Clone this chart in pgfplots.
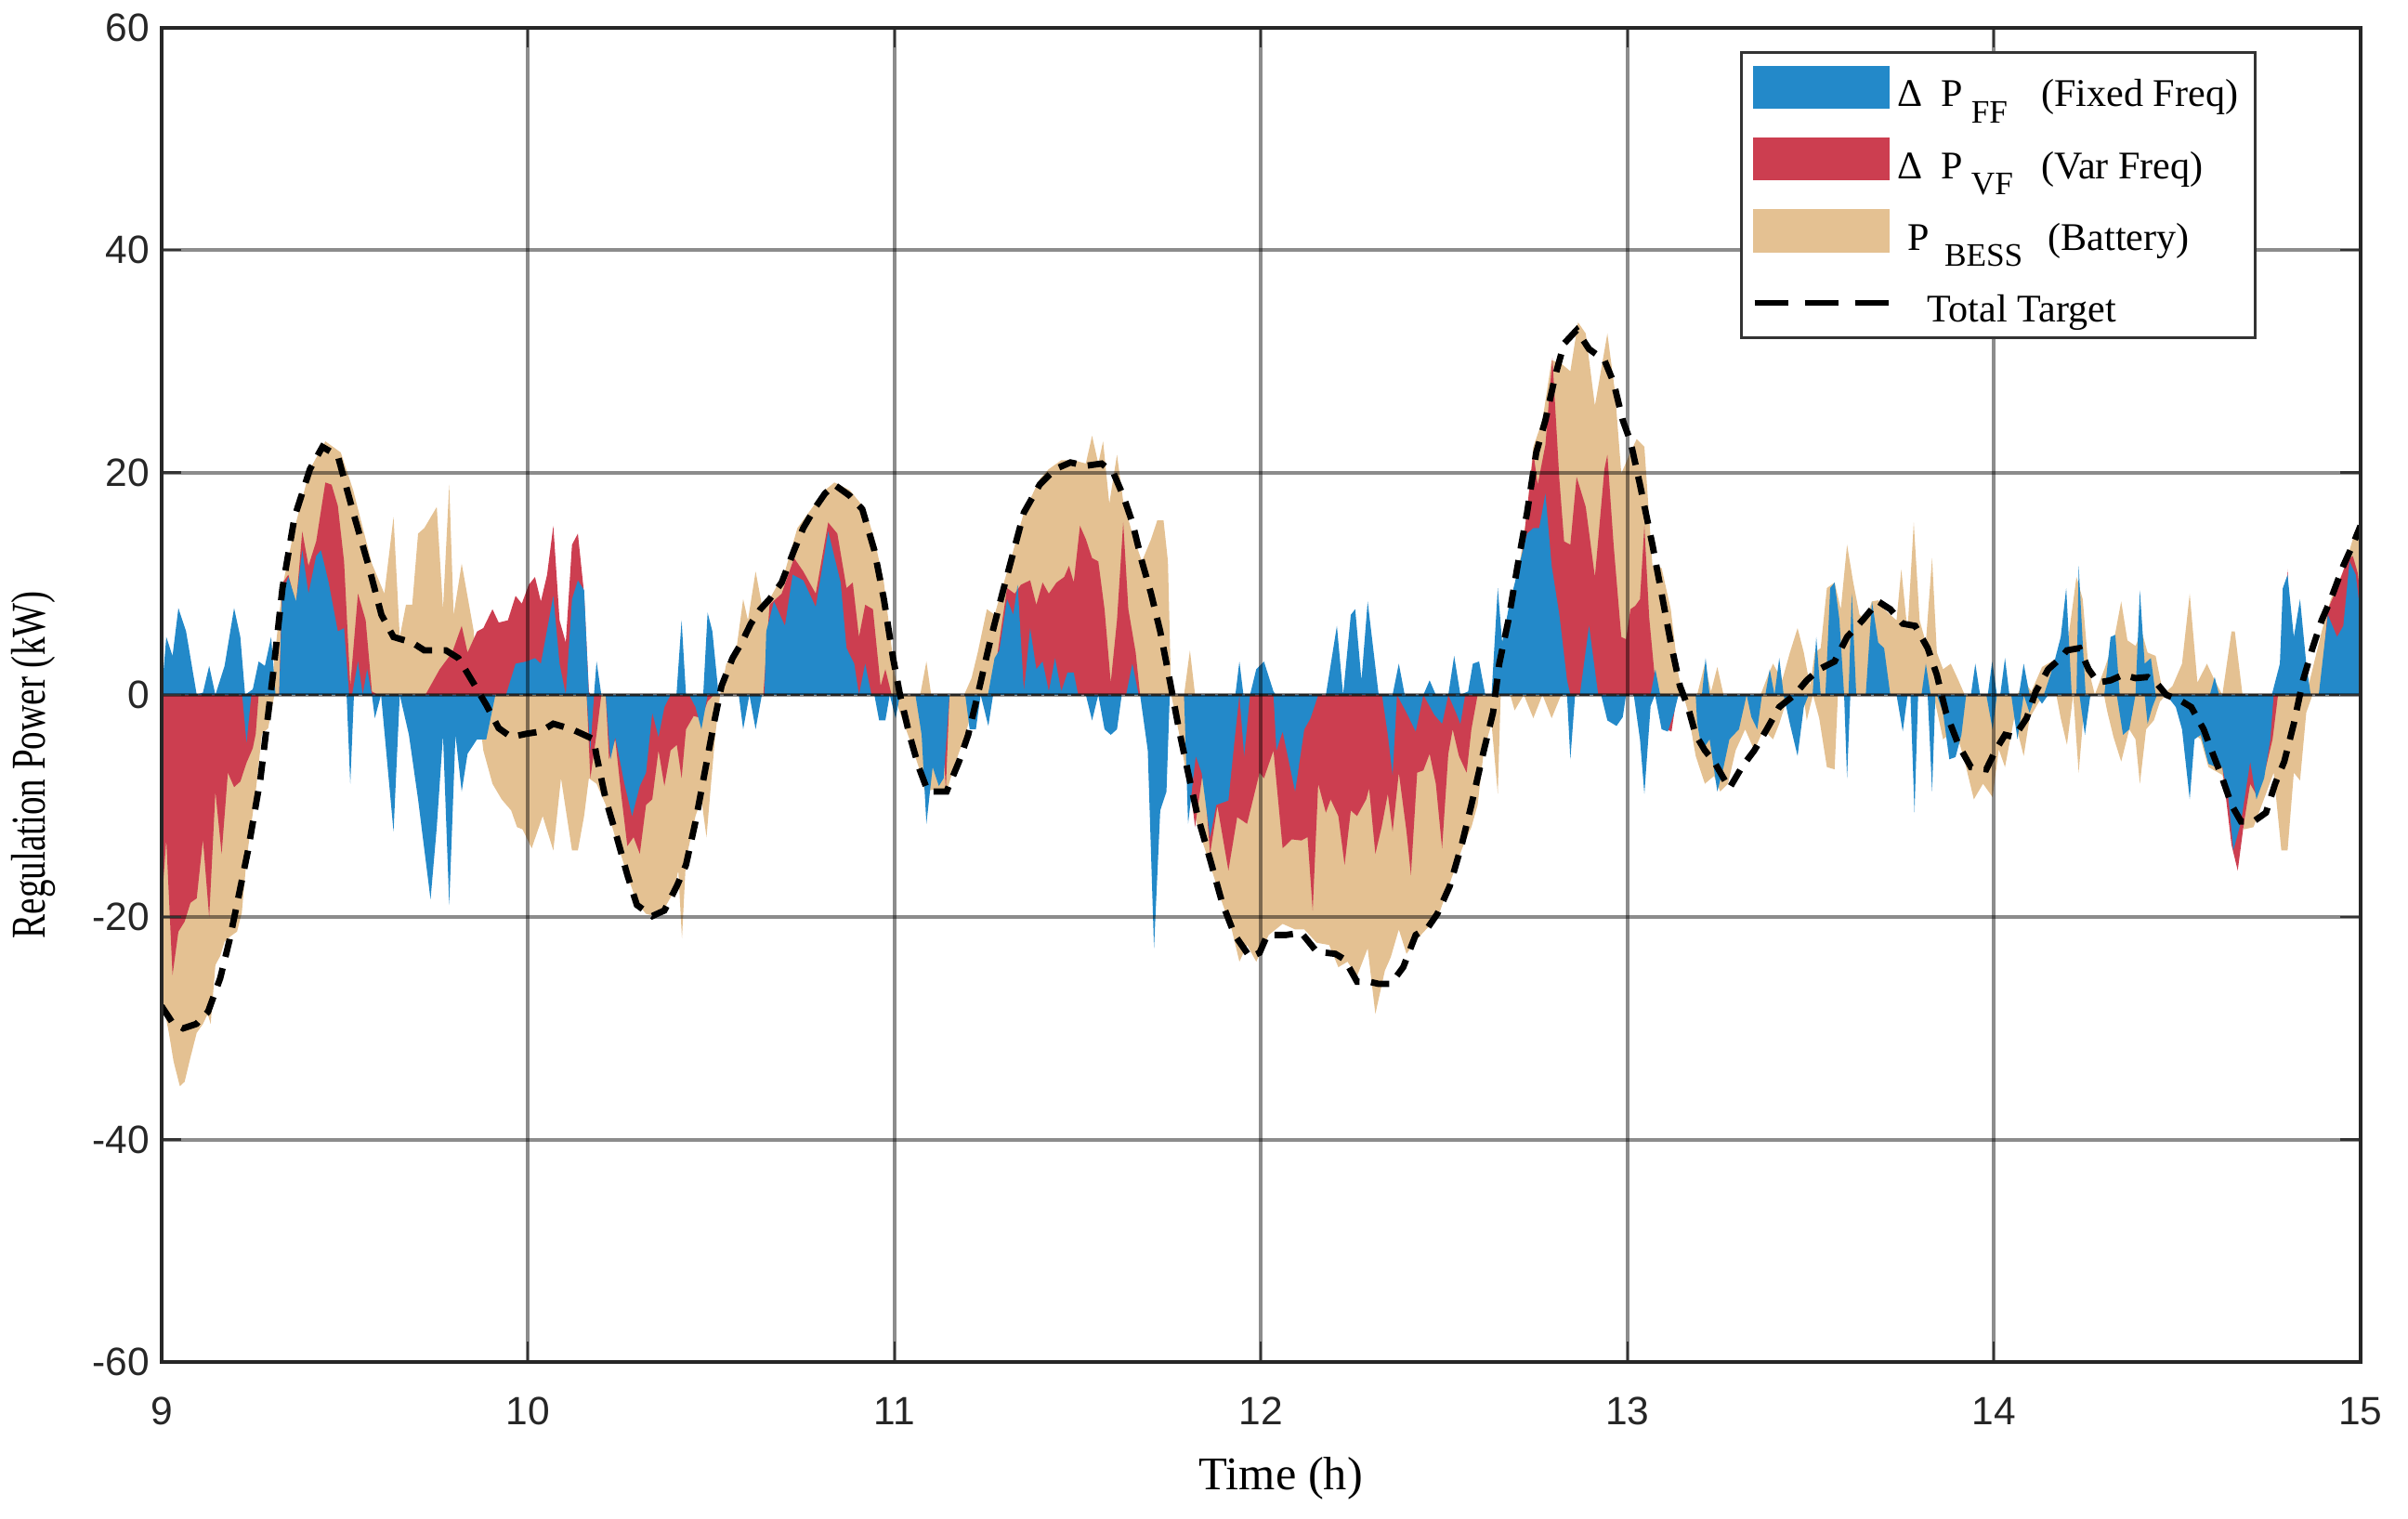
\documentclass[border=0pt]{standalone}
\usepackage{pgfplots}
\pgfplotsset{compat=1.18}
\usepackage{fontspec}
\setmainfont{Liberation Serif}
\newfontfamily\sansf{Liberation Sans}
\usepackage{graphicx}

\definecolor{cblue}{RGB}{35,137,201}
\definecolor{cred}{RGB}{204,62,80}
\definecolor{ctan}{RGB}{228,193,146}

% lowered subscript used in the legend
\newcommand\lsub[1]{\raisebox{-4.8pt}{\fontsize{9.8}{10}\selectfont #1}}
\newcommand\lstrut{\rule[-8pt]{0pt}{21.2pt}}
\newcommand\lstrutlast{\rule[-5pt]{0pt}{18.2pt}}

\begin{document}
\begin{tikzpicture}
\path[use as bounding box] (-48.3pt,-46.7pt) rectangle (671.7pt,407.2pt);
\begin{axis}[
  at={(0,0)}, anchor=south west,
  width=657.5pt, height=398.9pt, scale only axis,
  xmin=9, xmax=15, ymin=-60, ymax=60,
  xtick={9,10,11,12,13,14,15},
  xticklabels={9,10,11,12,13,14,15},
  ytick={-60,-40,-20,0,20,40,60},
  yticklabels={-60,-40,-20,0,20,40,60},
  tick label style={font=\sansf\fontsize{11.8}{12}\selectfont, text=black!85},
  xticklabel style={yshift=-7pt},
  grid=major,
  major grid style={black, opacity=0.45, line width=1.1pt},
  tick align=inside, major tick length=6pt,
  tick style={black!80, line width=0.6pt},
  axis line style={black!85, line width=1pt},
  axis on top,
  no markers,
  xlabel={Time (h)},
  xlabel style={font=\fontsize{14}{16}\selectfont, at={(axis description cs:0.5091,-0.0877)}, anchor=center},
  ylabel={\scalebox{0.75}[1]{Regulation Power (kW)}},
  ylabel style={font=\fontsize{14.5}{16}\selectfont, at={(axis description cs:-0.0583,0.4474)}, anchor=center},
  legend style={at={(rel axis cs:0.718,0.9825)}, anchor=north west,
    draw=black!80, line width=0.8pt, fill=white,
    inner xsep=3pt, inner ysep=1pt, row sep=2.8pt,
    font=\fontsize{11.7}{13}\selectfont,
    cells={anchor=west}},
]

% ---- P_BESS (battery), positive part
\addplot[fill=ctan, draw=none, forget plot] coordinates {
(9.000,0)
(9.290,0) (9.304,2) (9.329,9.6) (9.363,15) (9.405,20.3) (9.447,22.8) (9.489,21.8) (9.523,18.4) (9.574,11.8) (9.608,9.1) (9.633,16) (9.650,5.2) (9.667,8.1) (9.684,8.1) (9.700,14.5) (9.717,15) (9.751,16.9) (9.768,7.7) (9.785,18.9) (9.797,7.2) (9.819,11.8) (9.852,5.7) (9.861,0)
(10.524,0) (10.541,2.8) (10.566,3.5) (10.587,8.6) (10.600,6.7) (10.621,11.1) (10.638,8.1) (10.659,8.6) (10.701,11.1) (10.735,15) (10.777,16.9) (10.810,18.4) (10.836,19.1) (10.878,18.4) (10.920,16.7) (10.945,14) (10.971,10.1) (10.987,5.7) (11.000,2) (11.012,0)
(11.070,0) (11.087,3) (11.100,0)
(11.190,0) (11.210,1.5) (11.227,3.8) (11.252,7.7) (11.273,7.2) (11.294,9.6) (11.320,12.5) (11.353,16.4) (11.396,19.4) (11.421,20.3) (11.455,21.1) (11.489,21.1) (11.522,20.8) (11.539,23.3) (11.556,20.8) (11.569,22.8) (11.586,17.2) (11.607,21.6) (11.624,17.4) (11.649,14.5) (11.675,12) (11.700,14) (11.717,15.7) (11.734,15.7) (11.746,12) (11.755,0)
(11.790,0) (11.806,4) (11.820,0)
(12.641,0) (12.658,4.7) (12.684,8.6) (12.709,12.5) (12.726,16.4) (12.743,22.3) (12.768,24.7) (12.793,30.1) (12.819,29.8) (12.844,29.1) (12.865,33.5) (12.886,32.5) (12.911,26) (12.945,32.5) (12.966,27.2) (12.983,19.9) (13.008,21.8) (13.025,23) (13.046,22.3) (13.068,11.6) (13.093,11.4) (13.118,7.7) (13.139,1.8) (13.152,0)
(13.190,0) (13.211,2.8) (13.228,0.3) (13.245,2.5) (13.262,0)
(13.363,0) (13.384,1.8) (13.397,2.8) (13.422,1.3) (13.443,3.8) (13.464,6) (13.481,3.8) (13.498,0.8) (13.511,3.8) (13.527,4.2) (13.544,9.6) (13.565,10.1) (13.582,7.7) (13.599,13.5) (13.616,10.1) (13.633,7.2) (13.650,6.7) (13.667,8.4) (13.684,8.5) (13.700,7.7) (13.717,7.2) (13.734,6.7) (13.747,11.3) (13.764,5.7) (13.781,15.5) (13.797,6.7) (13.814,4.7) (13.831,12.3) (13.844,3.8) (13.861,2.3) (13.882,2.8) (13.903,1.3) (13.920,0)
(14.064,0) (14.081,1.3) (14.102,0.3) (14.131,2.5) (14.157,3) (14.182,3.3) (14.199,4.2) (14.225,10.6) (14.242,8.6) (14.258,2.3) (14.275,0) (14.301,2.3) (14.326,4.7) (14.347,8.4) (14.364,4.9) (14.386,4.4) (14.403,5.7) (14.419,3.8) (14.441,3.5) (14.462,0) (14.487,0.8) (14.513,2.8) (14.534,9.1) (14.555,1.1) (14.581,2.8) (14.602,1.3) (14.623,0) (14.648,5.7) (14.657,5.7) (14.678,0)
(14.852,0) (14.869,2.3) (14.894,5.7) (14.919,8.6) (14.953,11.1) (14.979,14) (15.000,15) (15.000,0)
} -- cycle;

% ---- P_BESS (battery), negative part
\addplot[fill=ctan, draw=none, forget plot] coordinates {
(9.000,0) (9.000,-27) (9.020,-30.4) (9.033,-33) (9.050,-35.2) (9.063,-34.8) (9.079,-32.6) (9.096,-30.4) (9.113,-29.6) (9.126,-28.7) (9.134,-29.6) (9.147,-24.3) (9.160,-23.5) (9.172,-22.2) (9.189,-21.7) (9.206,-21.3) (9.219,-19.6) (9.232,-14.8) (9.257,-8.7) (9.274,-3.5) (9.291,-3) (9.308,0)
(9.861,0) (9.878,-5) (9.903,-8) (9.928,-9.4) (9.954,-10.4) (9.970,-11.9) (9.985,-12.1) (10.010,-13.8) (10.040,-10.9) (10.069,-14) (10.090,-7.5) (10.120,-14) (10.136,-14) (10.153,-10.9) (10.166,-7.5) (10.187,-8) (10.212,-9.9) (10.238,-12.8) (10.271,-16.2) (10.297,-18.7) (10.322,-19.7) (10.347,-19.9) (10.372,-19.2) (10.398,-17.7) (10.410,-15.8) (10.420,-21.9) (10.431,-14.8) (10.457,-10.9) (10.473,-9.4) (10.487,-12.8) (10.498,-8.5) (10.511,-3.6) (10.524,0)
(10.998,0) (11.015,-1.6) (11.041,-4) (11.066,-6.5) (11.083,-8.7) (11.108,-8.5) (11.142,-8.7) (11.167,-6) (11.193,-3.6) (11.210,-1.6) (11.222,0)
(11.755,0) (11.776,-3.4) (11.801,-8) (11.827,-11.9) (11.861,-15.3) (11.894,-18.7) (11.920,-21.1) (11.941,-24) (11.962,-22.5) (11.987,-24) (12.021,-21.6) (12.059,-20.6) (12.093,-21.1) (12.118,-21.1) (12.152,-22.3) (12.186,-22.5) (12.211,-24.5) (12.236,-24) (12.262,-25.3) (12.291,-22.8) (12.312,-28.7) (12.338,-24.8) (12.354,-23.6) (12.376,-21.1) (12.397,-23.3) (12.422,-22.1) (12.456,-20.9) (12.489,-19.4) (12.523,-16.2) (12.549,-13.8) (12.574,-11.9) (12.591,-9.9) (12.608,-5) (12.629,-2.6) (12.646,-8.9) (12.654,0)
(12.680,0) (12.692,-1.4) (12.717,0) (12.743,-2.1) (12.768,0) (12.793,-2.1) (12.819,0)
(13.152,0) (13.165,-1.5) (13.186,-5.5) (13.211,-8) (13.236,-7.3) (13.253,-8.7) (13.274,-8) (13.295,-5) (13.321,-3.1) (13.346,-5) (13.371,-3.1) (13.397,-4) (13.414,-2.6) (13.439,0)
(13.480,0) (13.489,-2.3) (13.506,0) (13.523,-2.1) (13.544,-6.5) (13.565,-6.7) (13.574,0)
(13.835,0) (13.861,-4) (13.895,-3.1) (13.920,-6) (13.945,-9.4) (13.970,-8) (13.996,-9.2) (14.013,-4.9) (14.030,-6.5) (14.055,-2.1) (14.081,-5.5) (14.097,-2.1) (14.123,-0.6) (14.148,0)
(14.170,0) (14.182,-2.1) (14.199,-4.5) (14.216,0) (14.231,-7) (14.246,-1.1) (14.267,0)
(14.300,0) (14.309,-1.5) (14.326,-3.8) (14.347,-6) (14.369,-3.1) (14.386,-4) (14.398,-8) (14.415,-3.1) (14.436,-2.3) (14.453,-0.6) (14.470,0)
(14.490,0) (14.504,-1.5) (14.530,-3.1) (14.564,-4) (14.585,-6.5) (14.623,-7.2) (14.648,-10.2) (14.682,-12.1) (14.708,-11.9) (14.742,-8.9) (14.763,-7) (14.784,-14) (14.801,-14) (14.818,-7) (14.835,-7.7) (14.852,-1.6) (14.869,0)
(15.000,0)
} -- cycle;

% ---- Delta P_VF (variable frequency), positive part
\addplot[fill=cred, draw=none, forget plot] coordinates {
(9.000,0)
(9.321,0) (9.329,10) (9.346,10.8) (9.367,8.1) (9.384,14.7) (9.401,11.6) (9.422,13.8) (9.447,19.1) (9.464,18.9) (9.481,17) (9.498,12) (9.515,0.8) (9.536,9.1) (9.557,6.7) (9.574,0.3) (9.591,0)
(9.720,0) (9.759,2.3) (9.793,3.8) (9.819,6.2) (9.835,3.8) (9.861,5.7) (9.878,6) (9.903,7.7) (9.920,6.5) (9.945,6.7) (9.966,8.9) (9.983,8.2) (10.002,9.9) (10.019,10.6) (10.035,8.4) (10.052,10.8) (10.069,15.2) (10.086,6.7) (10.103,4.7) (10.120,13.5) (10.136,14.5) (10.153,9.1) (10.166,0.3) (10.170,0)
(10.642,0) (10.659,8.1) (10.692,9.1) (10.726,12.3) (10.751,11.1) (10.785,9.1) (10.819,15.5) (10.844,14.5) (10.869,9.6) (10.886,10.1) (10.903,5.2) (10.920,8.1) (10.941,7.7) (10.962,0.8) (10.975,2.3) (10.992,0)
(11.265,0) (11.280,3.5) (11.300,8) (11.307,9.6) (11.328,9.1) (11.345,9.9) (11.370,10.3) (11.387,8.1) (11.404,10.1) (11.421,9.1) (11.442,10.1) (11.463,10.6) (11.476,11.6) (11.489,10.1) (11.506,15.2) (11.522,14) (11.539,12.3) (11.556,12) (11.573,7.7) (11.590,1.1) (11.607,6.7) (11.624,15.5) (11.638,7.7) (11.658,3.8) (11.670,0)
(12.690,0) (12.709,11.6) (12.743,21.8) (12.755,18.9) (12.776,22.5) (12.795,30.3) (12.814,19.4) (12.827,13.8) (12.844,13.5) (12.861,19.6) (12.886,16.9) (12.911,10.6) (12.937,20.3) (12.945,21.6) (12.962,13.5) (12.983,5.2) (12.996,5) (13.008,7.7) (13.021,8) (13.034,8.6) (13.046,15.2) (13.059,7) (13.076,1) (13.085,0)
(14.785,0) (14.801,11.3) (14.812,0)
(14.890,0) (14.911,7.7) (14.936,9.6) (14.962,12) (14.979,12.5) (14.992,11) (15.000,9) (15.000,0)
} -- cycle;

% ---- Delta P_VF (variable frequency), negative part
\addplot[fill=cred, draw=none, forget plot] coordinates {
(9.000,0) (9.000,-19) (9.013,-13) (9.030,-25.2) (9.046,-21.3) (9.063,-20.4) (9.079,-18.7) (9.096,-18.3) (9.113,-13) (9.130,-20) (9.147,-8.7) (9.164,-14.3) (9.181,-7) (9.198,-8.3) (9.215,-7.8) (9.232,-6.1) (9.249,-4.8) (9.257,-3.5) (9.265,0)
(10.160,0) (10.170,-7.5) (10.187,-3.5) (10.200,0)
(10.212,0) (10.221,-5.8) (10.238,-4) (10.254,-8.9) (10.271,-13.6) (10.288,-12.8) (10.305,-14.3) (10.322,-9.9) (10.339,-9.4) (10.356,-5) (10.372,-8.2) (10.389,-5) (10.406,-4.5) (10.419,-7.5) (10.431,-3.1) (10.452,-1.9) (10.473,-2.1) (10.490,-0.6) (10.507,0)
(11.125,0) (11.140,-8.5) (11.150,0)
(11.790,0) (11.806,-8) (11.820,-11.9) (11.843,-6.5) (11.861,-14.3) (11.881,-10) (11.911,-15.8) (11.935,-11) (11.962,-11.6) (11.996,-7) (12.008,-7.5) (12.034,-5) (12.059,-13.8) (12.084,-13) (12.110,-13.1) (12.127,-12.8) (12.141,-19.4) (12.156,-8) (12.177,-10.6) (12.190,-9.4) (12.211,-10.9) (12.228,-15.3) (12.245,-10.4) (12.262,-10.9) (12.287,-9.4) (12.295,-8.4) (12.312,-14.3) (12.329,-11.9) (12.346,-8.9) (12.359,-12.3) (12.376,-7) (12.397,-12.3) (12.409,-16.2) (12.426,-7) (12.443,-6.8) (12.460,-5.3) (12.477,-8) (12.494,-13.8) (12.511,-5.3) (12.523,-3.1) (12.540,-5.5) (12.561,-7) (12.574,-3.1) (12.591,0)
(13.090,0) (13.100,-3) (13.120,-3.3) (13.135,0)
(14.610,0) (14.623,-6.5) (14.648,-13.5) (14.665,-15.8) (14.682,-11.5) (14.699,-8) (14.716,-9) (14.742,-6.5) (14.760,-4) (14.775,0)
(15.000,0)
} -- cycle;

% ---- Delta P_FF (fixed frequency), positive part
\addplot[fill=cblue, draw=none, forget plot] coordinates {
(9.000,0) (9.013,5.2) (9.030,3.5) (9.046,7.8) (9.067,5.7) (9.096,0) (9.113,0.2) (9.130,2.6) (9.147,0) (9.172,2.6) (9.198,7.8) (9.215,5.2) (9.228,0) (9.249,0.5) (9.265,3) (9.282,2.6) (9.299,5.2) (9.311,0) (9.321,0) (9.329,9.1) (9.346,10.6) (9.367,8.4) (9.384,13) (9.401,9.1) (9.422,12.5) (9.435,13) (9.456,10.1) (9.481,5.7) (9.498,6) (9.512,0) (9.520,0) (9.536,3) (9.549,0) (9.561,2.3) (9.574,0)
(9.940,0) (9.966,2.8) (9.996,3) (10.019,3.3) (10.035,2.8) (10.069,8.9) (10.086,2.8) (10.103,0) (10.120,8.6) (10.136,10.3) (10.153,9.4) (10.166,0) (10.180,0) (10.187,3) (10.200,0)
(10.405,0) (10.419,6.7) (10.431,0) (10.478,0) (10.490,7.4) (10.503,5.7) (10.520,0)
(10.645,0) (10.650,5.7) (10.671,8.4) (10.701,6.2) (10.722,10.8) (10.751,10.3) (10.785,7.9) (10.819,14.7) (10.853,10.1) (10.869,4.2) (10.890,2.8) (10.903,0) (10.920,2.8) (10.937,0)
(11.255,0) (11.273,3.3) (11.286,4) (11.307,8.6) (11.324,7.2) (11.336,9.9) (11.353,0.3) (11.370,6) (11.387,2.3) (11.404,3) (11.421,0.3) (11.438,3.3) (11.455,0.3) (11.472,2) (11.489,2) (11.501,0)
(11.632,0) (11.649,2.8) (11.666,0)
(11.930,0) (11.941,3) (11.952,0) (11.970,0) (11.987,2.3) (12.008,3) (12.034,0.3) (12.040,0)
(12.177,0) (12.207,6.2) (12.224,0) (12.245,7.2) (12.257,7.7) (12.274,1.3) (12.291,8.4) (12.321,0)
(12.359,0) (12.376,2.8) (12.392,0)
(12.443,0) (12.460,1.3) (12.477,0)
(12.511,0) (12.527,3.5) (12.544,0)
(12.565,0.3) (12.578,2.8) (12.595,3) (12.612,0)
(12.629,0) (12.646,9.6) (12.658,4.7) (12.675,7.7) (12.700,11.1) (12.726,14.5) (12.743,15) (12.759,15) (12.776,18.1) (12.793,11.6) (12.814,7.2) (12.835,1.3) (12.844,0)
(12.870,0) (12.895,6.2) (12.920,0)
(13.063,0) (13.076,2.3) (13.089,0)
(13.203,0) (13.213,3.3) (13.224,0)
(13.376,0) (13.388,2.3) (13.401,0) (13.414,3.3) (13.426,0)
(13.505,0) (13.515,5.2) (13.527,0) (13.540,0) (13.553,9.6) (13.565,10.1) (13.578,6.8) (13.591,0)
(13.603,0) (13.612,9.1) (13.624,0)
(13.650,0) (13.667,8.4) (13.684,4.7) (13.700,4.2) (13.717,0)
(13.802,0) (13.814,2.8) (13.827,0)
(13.937,0) (13.949,2.8) (13.962,0)
(13.983,0) (13.995,3) (14.008,0)
(14.017,0) (14.030,3.3) (14.042,0)
(14.068,0) (14.081,2.8) (14.097,0)
(14.136,0) (14.161,2.5) (14.182,5.2) (14.197,9.6) (14.212,0)
(14.225,0) (14.231,11.6) (14.242,4.7) (14.250,0)
(14.301,0) (14.318,5.2) (14.331,5.4) (14.343,0)
(14.386,0) (14.398,9.4) (14.411,2.8) (14.428,3.3) (14.441,0)
(14.589,0) (14.602,1.6) (14.614,0)
(14.758,0) (14.780,2.8) (14.788,9.6) (14.801,10.8) (14.818,5.2) (14.835,8.6) (14.852,2.8) (14.864,0)
(14.886,0) (14.911,7.2) (14.936,5.2) (14.953,6.2) (14.970,12) (14.987,10.8) (15.000,7.2) (15.000,0)
} -- cycle;

% ---- Delta P_FF (fixed frequency), negative part
\addplot[fill=cblue, draw=none, forget plot] coordinates {
(9.000,0)
(9.220,0) (9.232,-4.3) (9.245,0)
(9.505,0) (9.515,-8) (9.525,0)
(9.574,0) (9.582,-2.1) (9.599,0) (9.633,-12.3) (9.650,0) (9.675,-3.6) (9.700,-9.4) (9.734,-18.4) (9.751,-11.9) (9.768,-3.6) (9.785,-18.9) (9.802,-3.6) (9.819,-8.7) (9.835,-5.3) (9.861,-4) (9.886,-4) (9.911,0)
(10.160,0) (10.170,-5) (10.180,0)
(10.212,0) (10.225,-5.8) (10.238,-3.8) (10.263,-8) (10.284,-10.9) (10.305,-8.2) (10.322,-7) (10.339,-1.6) (10.356,-3.8) (10.372,-1.1) (10.389,0)
(10.440,0) (10.457,-1.1) (10.473,-3.1) (10.490,0)
(10.575,0) (10.587,-3.1) (10.604,0) (10.621,-3.1) (10.638,0)
(10.945,0) (10.958,-2.3) (10.975,-2.3) (10.987,0) (11.003,-2.1) (11.015,0)
(11.057,0) (11.074,-3.6) (11.087,-11.6) (11.104,-6.5) (11.121,-8.2) (11.134,-7.5) (11.150,0)
(11.193,0) (11.205,-3.1) (11.222,-3.1) (11.235,0) (11.256,-2.8) (11.269,0)
(11.522,0) (11.539,-2.3) (11.556,0) (11.573,-3.1) (11.590,-3.6) (11.607,-3.1) (11.620,0)
(11.670,0) (11.691,-5) (11.708,-22.8) (11.725,-10.4) (11.742,-8.7) (11.751,0)
(11.790,0) (11.801,-11.6) (11.822,-5.5) (11.838,-7) (11.861,-12.8) (11.878,-9.9) (11.911,-9.5) (11.928,-4) (11.941,0) (11.954,-5.5) (11.970,0)
(12.034,0) (12.042,-5) (12.059,-3.3) (12.093,-8.7) (12.118,-3.1) (12.135,-2.1) (12.156,0)
(12.330,0) (12.346,-3.6) (12.359,-7.2) (12.371,0) (12.397,-1.6) (12.422,-3.3) (12.443,0) (12.473,-1.8) (12.494,-2.6) (12.511,0) (12.532,-1.6) (12.544,-2.6) (12.557,0)
(12.835,0) (12.844,-5.8) (12.857,0)
(12.928,0) (12.945,-2.3) (12.970,-2.8) (12.987,-2) (12.996,0)
(13.017,0) (13.034,-4) (13.046,-8.9) (13.063,-1) (13.075,0) (13.093,-3.1) (13.110,-3.3) (13.127,-1.6) (13.139,0)
(13.186,0) (13.190,-2.5) (13.203,-5) (13.224,-4) (13.245,-8.7) (13.262,-6.5) (13.278,-4) (13.304,-3.1) (13.325,0) (13.338,-2) (13.354,-3.1) (13.367,0)
(13.426,0) (13.443,-2.6) (13.464,-5.5) (13.481,-1.1) (13.494,0)
(13.591,0) (13.599,-7.5) (13.608,0)
(13.734,0) (13.751,-3.3) (13.764,0) (13.772,0) (13.783,-10.6) (13.793,0) (13.819,0) (13.831,-8.7) (13.840,0) (13.844,0) (13.861,-1.6) (13.878,-5.8) (13.895,-5.6) (13.911,-3.6) (13.924,0)
(13.979,0) (13.996,-3.1) (14.008,0) (14.047,0) (14.064,-4) (14.081,0) (14.097,-1.6) (14.114,0) (14.131,-0.8) (14.148,0)
(14.233,0) (14.248,-3.6) (14.263,0)
(14.335,0) (14.352,-3.6) (14.369,-3.1) (14.386,0)
(14.411,0) (14.419,-2.6) (14.432,-1.1) (14.445,0)
(14.470,0) (14.496,-1.1) (14.513,-3.1) (14.534,-9.4) (14.547,-4) (14.564,-3.6) (14.585,-6.2) (14.606,-6.5) (14.623,-6.5) (14.640,-9.4) (14.653,-14) (14.674,-11.4) (14.699,-6) (14.716,-9.4) (14.737,-7.5) (14.754,-4) (14.763,0)
(15.000,0)
} -- cycle;

% baseline of the areas
\addplot[black!75, line width=0.6pt, dash pattern=on 3pt off 1pt, forget plot] coordinates {(9,0) (15,0)};

% ---- total regulation target
\addplot[black, line width=1.9pt, dash pattern=on 5.5pt off 3.5pt, forget plot] coordinates {
(9.000,-28) (9.030,-29.5) (9.059,-30) (9.095,-29.6) (9.127,-28.5) (9.160,-25.5) (9.186,-22) (9.236,-14) (9.270,-7.5) (9.304,1.8) (9.330,9.6) (9.363,16) (9.405,20.3) (9.439,22.3) (9.481,21.5) (9.523,16.4) (9.565,11.6) (9.600,7.2) (9.633,5.2) (9.684,4.7) (9.717,4) (9.776,4) (9.810,3.3) (9.852,1) (9.886,-0.9) (9.920,-3) (9.954,-3.8) (9.996,-3.5) (10.035,-3.3) (10.069,-2.6) (10.120,-3.1) (10.153,-3.6) (10.179,-4) (10.187,-5.5) (10.212,-9.4) (10.238,-12.3) (10.271,-16.2) (10.297,-18.9) (10.339,-19.9) (10.372,-19.4) (10.406,-17.2) (10.431,-15.3) (10.457,-11.4) (10.482,-7) (10.507,-2.6) (10.528,0.8) (10.558,3.3) (10.583,4.7) (10.608,6.4) (10.634,7.7) (10.659,8.6) (10.692,10.1) (10.726,13) (10.751,15) (10.785,16.9) (10.810,18.1) (10.836,18.9) (10.878,17.9) (10.912,16.7) (10.945,13) (10.971,8.6) (10.996,3.3) (11.015,0) (11.040,-3.5) (11.066,-6.5) (11.091,-8.7) (11.142,-8.7) (11.176,-6) (11.201,-3.6) (11.227,0) (11.260,4.7) (11.294,9.1) (11.320,12.3) (11.353,16.4) (11.396,18.9) (11.438,20.3) (11.480,20.9) (11.522,20.6) (11.565,20.8) (11.598,19.9) (11.624,17.9) (11.649,15.5) (11.675,12) (11.700,9.1) (11.725,5.7) (11.751,1.3) (11.776,-3.1) (11.801,-7) (11.827,-10.9) (11.861,-14.8) (11.894,-18.7) (11.928,-21.6) (11.970,-23.6) (11.996,-23.2) (12.017,-21.6) (12.068,-21.6) (12.110,-21.4) (12.152,-23.1) (12.203,-23.3) (12.228,-23.8) (12.262,-25.8) (12.295,-25.8) (12.321,-26) (12.354,-26) (12.388,-24.5) (12.422,-21.6) (12.456,-20.9) (12.481,-19.7) (12.515,-17.2) (12.549,-13.3) (12.574,-9.9) (12.608,-5) (12.633,-1.6) (12.650,2.8) (12.675,6.7) (12.700,11.6) (12.726,16.4) (12.751,21.8) (12.776,24.7) (12.802,28.6) (12.827,31.6) (12.861,32.8) (12.895,31.1) (12.937,30.1) (12.962,28.1) (12.987,24.7) (13.008,22.8) (13.034,18.9) (13.068,13.5) (13.093,9.1) (13.118,4.7) (13.143,0.8) (13.165,-1.1) (13.186,-3.6) (13.211,-5) (13.236,-6) (13.262,-7.5) (13.278,-8.4) (13.312,-6.5) (13.346,-5) (13.380,-3.1) (13.414,-1.1) (13.456,0) (13.489,1.3) (13.523,2.3) (13.565,3) (13.599,5.2) (13.641,6.7) (13.684,8.4) (13.717,7.7) (13.751,6.4) (13.785,6.2) (13.819,4.2) (13.844,1.8) (13.869,-1.6) (13.903,-4.5) (13.937,-6.5) (13.979,-6.7) (14.004,-5) (14.030,-3.6) (14.055,-3.8) (14.089,-2.1) (14.114,0.3) (14.148,2.3) (14.182,3.3) (14.199,4) (14.233,4.2) (14.258,2.3) (14.284,1.1) (14.318,1.3) (14.352,1.8) (14.386,1.5) (14.419,1.6) (14.445,1) (14.470,0) (14.513,-0.6) (14.538,-1.1) (14.572,-3.1) (14.597,-5.3) (14.623,-7.5) (14.648,-9.9) (14.674,-11.4) (14.708,-11.4) (14.742,-10.6) (14.767,-8) (14.792,-6) (14.818,-2.6) (14.843,1.3) (14.869,4.2) (14.894,6.7) (14.919,8.6) (14.953,11.6) (14.979,13.5) (15.000,15.2)
};

% legend
\addlegendimage{legend image code/.code={\fill[cblue] (0pt,-6pt) rectangle (40pt,6pt);}}
\addlegendentry{\lstrut\makebox[13pt][l]{Δ}\makebox[9pt][l]{P}\makebox[21pt][l]{\lsub{FF}}(Fixed Freq)}
\addlegendimage{legend image code/.code={\fill[cred] (0pt,-6pt) rectangle (40pt,6pt);}}
\addlegendentry{\lstrut\makebox[13pt][l]{Δ}\makebox[9pt][l]{P}\makebox[21pt][l]{\lsub{VF}}(Var Freq)}
\addlegendimage{legend image code/.code={\fill[ctan] (0pt,-6pt) rectangle (40pt,6pt);}}
\addlegendentry{\lstrut\hspace{3pt}\makebox[11pt][l]{P}\makebox[31pt][l]{\lsub{BESS}}(Battery)}
\addlegendimage{legend image code/.code={\draw[black, line width=1.6pt, dash pattern=on 10pt off 5pt] (0pt,0pt) -- (40pt,0pt);}}
\addlegendentry{\lstrutlast\hspace{9pt}Total Target}
\end{axis}
\end{tikzpicture}
\end{document}
